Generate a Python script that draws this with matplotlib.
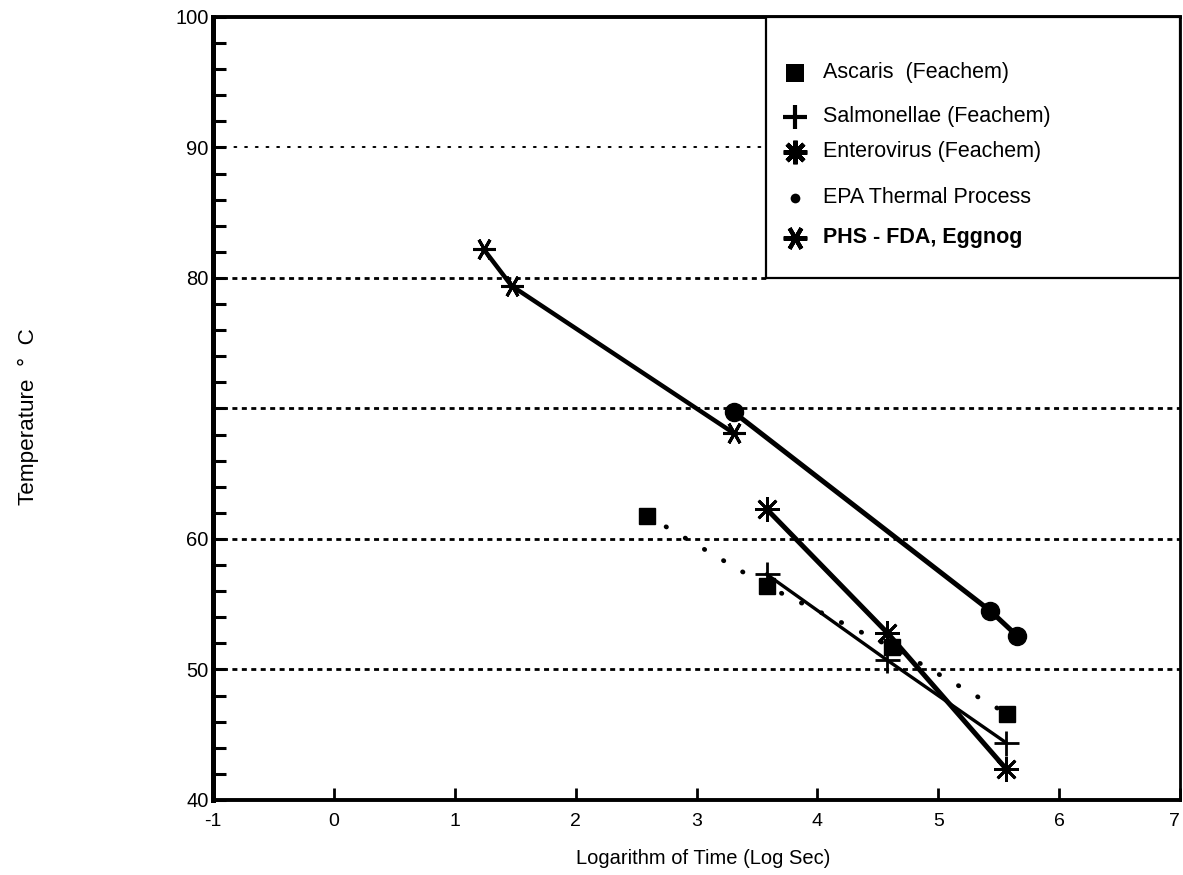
import matplotlib
matplotlib.use("Agg")
import matplotlib.pyplot as plt
from matplotlib.patches import Rectangle

plt.rcParams['font.family'] = ['Liberation Sans', 'DejaVu Sans']

# ---- data ----
phs_x = [1.24, 1.47, 3.31]
phs_y = [82.2, 79.4, 68.1]
epa_x = [3.31, 5.43, 5.65]
epa_y = [69.7, 54.5, 52.6]
entero_x = [3.58, 4.58, 5.56]
entero_y = [62.3, 52.8, 42.4]
salm_x = [3.58, 4.58, 5.56]
salm_y = [57.3, 50.7, 44.4]
asc_x = [2.59, 3.58, 4.62, 5.57]
asc_y = [61.8, 56.4, 51.7, 46.6]

x_ticks = [-1, 0, 1, 2, 3, 4, 5, 6, 7]
y_ticks = [40, 50, 60, 70, 80, 90, 100]
y_tick_labels = ['40', '50', '60', '', '80', '90', '100']
legend_labels = ['Ascaris  (Feachem)', 'Salmonellae (Feachem)', 'Enterovirus (Feachem)',
                 'EPA Thermal Process', 'PHS - FDA, Eggnog']

W, H = 1183, 875
fig = plt.figure(figsize=(W / 100, H / 100), dpi=100)
L, R, B, T = 213, 1180, 800, 17
ax = fig.add_axes([L / W, 1 - B / H, (R - L) / W, (B - T) / H])
ax.set_xlim(-1, 7)
ax.set_ylim(40, 100)

# spines
for side, lw in [('left', 3.6), ('bottom', 2.8), ('top', 2.8), ('right', 2.0)]:
    ax.spines[side].set_linewidth(lw)
    ax.spines[side].set_color('black')

ax.set_xticks(x_ticks)
ax.set_xticklabels([str(v) for v in x_ticks])
ax.set_yticks(y_ticks)
ax.set_yticklabels(y_tick_labels)
ax.set_yticks(list(range(42, 100, 2)), minor=True)
ax.tick_params(axis='y', which='both', direction='in', length=9, width=2.2, pad=3,
               labelsize=14.5)
ax.tick_params(axis='x', which='major', direction='in', length=9, width=2.0, pad=9,
               labelsize=14)
# keep the last x label ("7") inside the figure edge
ax.get_xticklabels()[-1].set_horizontalalignment('right')

# legend box region (axes fraction)
lx0 = (766 - L) / (R - L)
ly0 = (B - 278) / (B - T)

# horizontal reference lines
ax.axhline(90, xmin=0, xmax=lx0, color='black', lw=1.4, linestyle=(0, (1.0, 4.5)),
           dash_capstyle='round', zorder=1)
ax.axhline(80, xmin=0, xmax=lx0, color='black', lw=2.0, linestyle=(0, (1.8, 1.6)), zorder=1)
for yv in [70, 60, 50]:
    ax.axhline(yv, color='black', lw=2.0, linestyle=(0, (1.8, 1.6)), zorder=1)

# data series
ax.plot(phs_x, phs_y, color='black', lw=3.2, marker=(6, 2, 90), ms=16, mew=2.2,
        zorder=3)
ax.plot(epa_x, epa_y, color='black', lw=3.6, marker='o', ms=13, zorder=3)
ax.plot(entero_x, entero_y, color='black', lw=3.6, marker=(8, 2, 0), ms=18, mew=2.0,
        zorder=3)
ax.plot(salm_x, salm_y, color='black', lw=2.4, marker='+', ms=18, mew=2.0, zorder=3)
ax.plot(asc_x, asc_y, color='black', lw=3.4, linestyle=(0, (0.1, 4.6)),
        dash_capstyle='round', marker='s', ms=12, zorder=3)

# legend (manual box)
ax.add_patch(Rectangle((lx0, ly0), 1 - lx0, 1 - ly0, transform=ax.transAxes,
                       facecolor='white', edgecolor='black', lw=1.6, zorder=4))
entries_py = [73, 117, 152, 198, 238]
marker_px = 795
text_px = 823
styles = [dict(marker='s', ms=13, mew=0),
          dict(marker='+', ms=17, mew=3.0),
          dict(marker=(8, 2, 0), ms=17, mew=3.2),
          dict(marker='o', ms=7, mew=0),
          dict(marker=(6, 2, 90), ms=17, mew=3.0)]
for lab, py, st in zip(legend_labels, entries_py, styles):
    yf = (B - py) / (B - T)
    ax.plot([(marker_px - L) / (R - L)], [yf], transform=ax.transAxes, color='black',
            linestyle='none', zorder=5, clip_on=False, **st)
    ax.text((text_px - L) / (R - L), yf, lab, transform=ax.transAxes, fontsize=15.5,
            va='center', ha='left', zorder=5,
            fontweight='bold' if lab.startswith('PHS') else 'normal')

fig.text(703 / W, 1 - 859 / H, 'Logarithm of Time (Log Sec)', ha='center', va='center',
         fontsize=14.5)
fig.text(28 / W, 1 - 417 / H, 'Temperature  °  C', ha='center', va='center',
         rotation=90, fontsize=16.2)

fig.savefig('out.png', dpi=100)
